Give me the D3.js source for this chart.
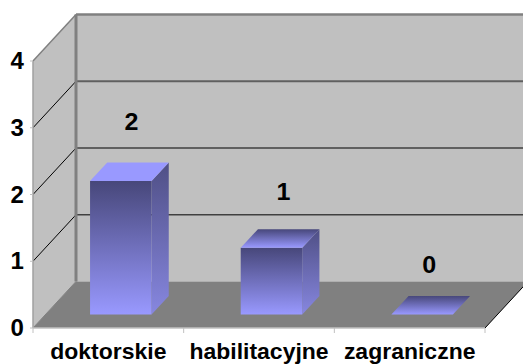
<!DOCTYPE html>
<html>
<head>
<meta charset="utf-8">
<script src="https://cdn.jsdelivr.net/npm/d3@7"></script>
<style>
  html, body { margin: 0; padding: 0; background: white; }
  text { font-family: "Liberation Sans", Arial, sans-serif; font-weight: bold; fill: black; }
</style>
</head>
<body>
<div id="content"></div>
<script>
const categories = ['doktorskie', 'habilitacyjne', 'zagraniczne'];
const values = [2, 1, 0];
const yTicks = [0, 1, 2, 3, 4];

const width = 523;
const height = 364;

// front plane of the 3d box
const x = d3.scaleBand().domain(categories).range([33, 485]);
const y = d3.scaleLinear().domain([0, 4]).range([328, 61]);
const depthX = 43;
const depthY = -46.5;

// bars sit a little way into the floor
const barOffset = 0.29;
const barDepth = 0.4;
const barWidth = 61.5;

// value labels float above the bar roof
const labelNudgeX = [2, 3.5, -1.5];
const labelLift = [32, 29, 23];

const svg = d3.select('#content').append('svg')
  .attr('width', width)
  .attr('height', height)
  .attr('viewBox', [0, 0, width, height])
  .style('display', 'block')
  .style('background', 'white');

const defs = svg.append('defs');
function addGradient (id, top, bottom) {
  const g = defs.append('linearGradient').attr('id', id).attr('x1', 0).attr('y1', 0).attr('x2', 0).attr('y2', 1);
  g.append('stop').attr('offset', 0).attr('stop-color', top);
  g.append('stop').attr('offset', 1).attr('stop-color', bottom);
}
addGradient('front', '#47477a', '#9999ff');
addGradient('side', '#4f4f85', '#8787e0');
addGradient('roof', '#47477a', '#9999ff');

const poly = pts => 'M' + pts.map(p => p.join(',')).join('L') + 'Z';
const left = x.range()[0];
const right = x.range()[1];

// original labels are a touch wider than the font, stretch them
function label (px, py, anchor, str, size) {
  svg.append('text')
    .attr('transform', `translate(${px},${py}) scale(1.045,1)`)
    .attr('text-anchor', anchor)
    .style('font-size', size + 'px')
    .text(str);
}

// Walls and floor
svg.append('path')
  .attr('d', poly([[left + depthX, y(4) + depthY], [right + depthX, y(4) + depthY], [right + depthX, y(0) + depthY], [left + depthX, y(0) + depthY]]))
  .attr('fill', '#c0c0c0');
svg.append('path')
  .attr('d', poly([[left, y(4)], [left + depthX, y(4) + depthY], [left + depthX, y(0) + depthY], [left, y(0)]]))
  .attr('fill', '#c0c0c0');
svg.append('path')
  .attr('d', poly([[left, y(0)], [right, y(0)], [right + depthX, y(0) + depthY], [left + depthX, y(0) + depthY]]))
  .attr('fill', '#808080');

// Gridlines
const gridColor = { 1: '#404040', 2: '#000000', 3: '#606060', 4: '#808080' };
const gridWidth = { 1: 1.5, 2: 1, 3: 2, 4: 2.5 };
yTicks.filter(d => d > 0).forEach(d => {
  svg.append('line')
    .attr('x1', left + depthX).attr('y1', y(d) + depthY)
    .attr('x2', right + depthX).attr('y2', y(d) + depthY)
    .attr('stroke', gridColor[d]).attr('stroke-width', gridWidth[d]);
  svg.append('line')
    .attr('x1', left).attr('y1', y(d))
    .attr('x2', left + depthX).attr('y2', y(d) + depthY)
    .attr('stroke', d === 4 ? '#808080' : '#000').attr('stroke-width', d === 4 ? 1.5 : 1);
});
svg.append('line')
  .attr('x1', left + depthX).attr('y1', y(4) + depthY)
  .attr('x2', left + depthX).attr('y2', y(0) + depthY)
  .attr('stroke', '#808080').attr('stroke-width', 3);

// Floor edges and axes
svg.append('line')
  .attr('x1', left).attr('y1', y(0)).attr('x2', left + depthX).attr('y2', y(0) + depthY)
  .attr('stroke', '#808080');
svg.append('line')
  .attr('x1', right).attr('y1', y(0)).attr('x2', right + depthX).attr('y2', y(0) + depthY)
  .attr('stroke', '#000');
svg.append('line')
  .attr('x1', left).attr('y1', y(4)).attr('x2', left).attr('y2', y(0))
  .attr('stroke', '#a0a0a0').attr('stroke-width', 1.5);
svg.append('line')
  .attr('x1', left).attr('y1', y(0)).attr('x2', right).attr('y2', y(0))
  .attr('stroke', '#c0c0c0').attr('stroke-width', 1.5);

// Ticks and labels
yTicks.forEach(d => {
  svg.append('line')
    .attr('x1', left - 3).attr('y1', y(d)).attr('x2', left).attr('y2', y(d))
    .attr('stroke', '#c0c0c0');
  label(24, y(d) + 8, 'end', d, 23);
});
d3.range(4).forEach(i => {
  const tx = left + i * x.step();
  svg.append('line')
    .attr('x1', tx).attr('y1', y(0)).attr('x2', tx).attr('y2', y(0) + 5)
    .attr('stroke', '#c0c0c0');
});
categories.forEach(c => label(x(c) + x.step() / 2, 358.5, 'middle', c, 22));

// Bars
categories.forEach((c, i) => {
  const v = values[i];
  const x0 = x(c) + x.step() / 2 - barWidth / 2 + barOffset * depthX;
  const x1 = x0 + barWidth;
  const yb = y(0) + barOffset * depthY;
  const yt = y(v) + barOffset * depthY;
  const dx = barDepth * depthX;
  const dy = barDepth * depthY;
  if (v > 0) {
    svg.append('path')
      .attr('d', poly([[x1, yt], [x1 + dx, yt + dy], [x1 + dx, yb + dy], [x1, yb]]))
      .attr('fill', 'url(#side)');
    svg.append('path')
      .attr('d', poly([[x0, yt], [x1, yt], [x1, yb], [x0, yb]]))
      .attr('fill', 'url(#front)');
  }
  svg.append('path')
    .attr('d', poly([[x0, yt], [x1, yt], [x1 + dx, yt + dy], [x0 + dx, yt + dy]]))
    .attr('fill', i === 0 ? '#9999ff' : 'url(#roof)');
  label(x0 + barWidth / 2 + dx / 2 + labelNudgeX[i], yt + dy - labelLift[i], 'middle', v, 24);
});
</script>
</body>
</html>
